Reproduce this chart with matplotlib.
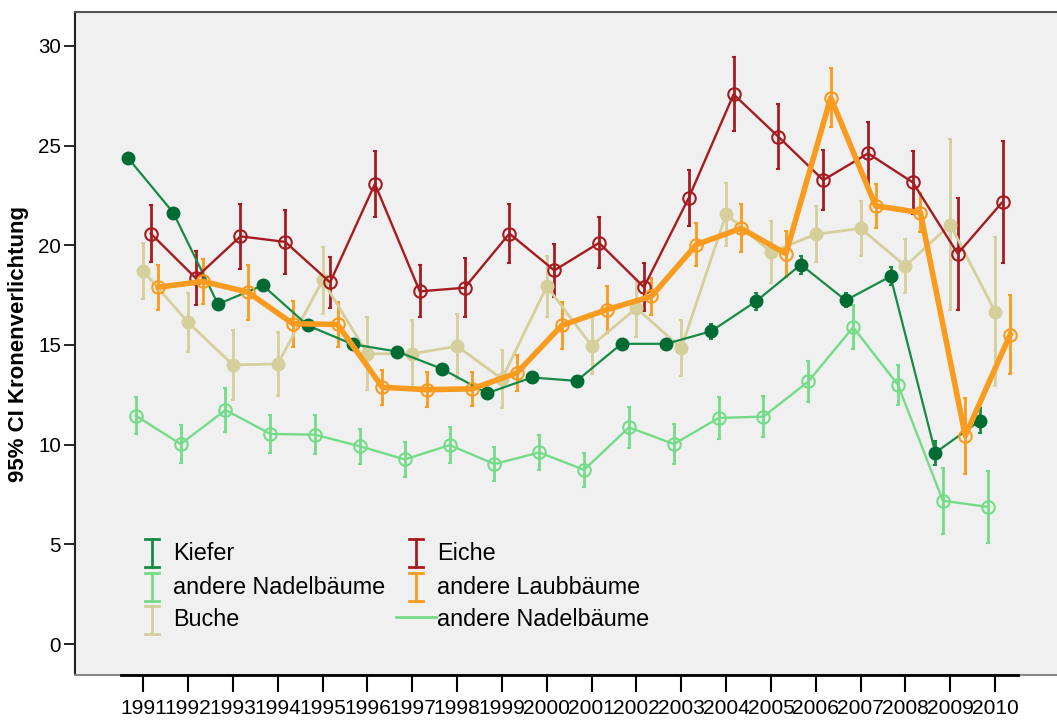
import numpy as np
import matplotlib
matplotlib.use("Agg")
import matplotlib.pyplot as plt

plt.rcParams['font.family'] = ['Liberation Sans', 'DejaVu Sans']

# Jahre (Kategorien)
years = [str(y) for y in range(1991, 2011)]

# Mittelwerte und halbe 95%-CI-Breiten
kiefer = [24.36, 21.64, 17.05, 17.99, 15.98, 15.04, 14.67, 13.80, 12.58, 13.37,
          13.20, 15.06, 15.06, 15.69, 17.19, 19.03, 17.24, 18.44, 9.60, 11.21]
kiefer_err = [0.27, 0.25, 0.25, 0.25, 0.2, 0.2, 0.2, 0.2, 0.25, 0.2,
              0.2, 0.2, 0.2, 0.37, 0.43, 0.45, 0.35, 0.45, 0.6, 0.63]

nadel = [11.46, 10.03, 11.74, 10.54, 10.50, 9.92, 9.26, 9.98, 9.03, 9.61,
         8.74, 10.87, 10.03, 11.34, 11.41, 13.17, 15.89, 13.00, 7.19, 6.88]
nadel_err = [0.92, 0.97, 1.09, 0.94, 0.98, 0.87, 0.88, 0.92, 0.84, 0.87,
             0.84, 1.02, 0.99, 1.05, 1.02, 1.04, 1.10, 1.00, 1.66, 1.80]

buche = [18.71, 16.13, 14.00, 14.05, 18.24, 14.56, 14.56, 14.94, 13.30, 17.94,
         14.97, 16.85, 14.84, 21.56, 19.66, 20.55, 20.85, 18.96, 21.04, 16.67]
buche_err = [1.42, 1.46, 1.74, 1.60, 1.67, 1.84, 1.67, 1.63, 1.47, 1.52,
             1.42, 1.47, 1.40, 1.58, 1.57, 1.40, 1.38, 1.37, 4.29, 3.75]

eiche = [20.59, 18.36, 20.45, 20.17, 18.14, 23.08, 17.69, 17.87, 20.59, 18.74,
         20.12, 17.90, 22.38, 27.57, 25.44, 23.27, 24.61, 23.15, 19.58, 22.18]
eiche_err = [1.42, 1.36, 1.63, 1.60, 1.27, 1.67, 1.31, 1.48, 1.49, 1.32,
             1.28, 1.21, 1.41, 1.86, 1.63, 1.49, 1.59, 1.57, 2.80, 3.06]

laub = [17.90, 18.19, 17.65, 16.07, 16.03, 12.88, 12.76, 12.80, 13.60, 15.98,
        16.77, 17.44, 20.03, 20.85, 19.58, 27.40, 21.98, 21.64, 10.45, 15.51]
laub_err = [1.13, 1.12, 1.38, 1.16, 1.11, 0.89, 0.88, 0.84, 0.90, 1.17,
            1.17, 0.94, 1.09, 1.20, 1.15, 1.48, 1.10, 0.99, 1.91, 1.98]

C_KIEFER = '#178a45'
C_KIEFER_M = '#006b33'
C_NADEL = '#74dc88'
C_BUCHE = '#d5cf9b'
C_EICHE = '#a61b20'
C_LAUB = '#f99b1e'

fig = plt.figure(figsize=(10.57, 7.2), dpi=100)
ax = fig.add_axes([75 / 1057, 45 / 720, 982 / 1057, 663 / 720])
ax.set_facecolor('#f0f0f0')

x = np.arange(len(years))
step = 1 / 6

# (werte, fehler, farbe, markerfarbe, gefuellt, linienbreite, versatz)
series = [
    (nadel, nadel_err, C_NADEL, C_NADEL, False, 1.7, -step),
    (buche, buche_err, C_BUCHE, C_BUCHE, True, 2.0, 0),
    (kiefer, kiefer_err, C_KIEFER, C_KIEFER_M, True, 1.6, -2 * step),
    (eiche, eiche_err, C_EICHE, C_EICHE, False, 1.7, step),
    (laub, laub_err, C_LAUB, C_LAUB, False, 4.0, 2 * step),
]
for vals, err, col, mcol, filled, lw, off in series:
    ax.errorbar(x + off, vals, yerr=err, color=col, lw=lw,
                ecolor=col, elinewidth=2, capsize=1.5, capthick=1.5,
                marker='o', markersize=9 if not filled else 8.5,
                markerfacecolor=mcol if filled else 'none',
                markeredgecolor=mcol, markeredgewidth=1.5, zorder=3)

ax.set_xlim(-1.523, 20.38)
ax.set_ylim(-1.55, 31.7)
ax.set_xticks(x)
ax.set_xticklabels(years, fontsize=15.1)
ax.set_yticks(range(0, 31, 5))
ax.tick_params(axis='y', labelsize=14.8, length=8, width=1.2, direction='out', pad=2)
ax.tick_params(axis='x', length=12, width=1.5, direction='out', pad=5)

ax.spines['right'].set_visible(False)
ax.spines['top'].set_color('#555555')
ax.spines['top'].set_linewidth(1.5)
ax.spines['left'].set_color('#222222')
ax.spines['left'].set_linewidth(1.5)
ax.spines['bottom'].set_color('#888888')
ax.spines['bottom'].set_linewidth(1.5)
# schwarze Kategorienachse
ax.plot([-0.5, 19.5], [-1.55, -1.55], color='black', lw=2, clip_on=False, zorder=5)

ax.set_ylabel('95% CI Kronenverlichtung', fontsize=16, fontweight='bold')
ax.yaxis.set_label_coords(-0.047, 0.5)

# Legende (manuell, SPSS-Stil)
def ibeam(xc, yc, col):
    h, w = 0.0205, 0.0071
    ax.plot([xc, xc], [yc - h, yc + h], color=col, lw=2, transform=ax.transAxes)
    ax.plot([xc - w, xc + w], [yc + h, yc + h], color=col, lw=2, transform=ax.transAxes)
    ax.plot([xc - w, xc + w], [yc - h, yc - h], color=col, lw=2, transform=ax.transAxes)

rows = [0.184, 0.1327, 0.083]
col1, col2 = 0.0781, 0.3473
items1 = [('Kiefer', C_KIEFER), ('andere Nadelbäume', C_NADEL), ('Buche', C_BUCHE)]
items2 = [('Eiche', C_EICHE), ('andere Laubbäume', C_LAUB)]
for (lab, col), yy in zip(items1, rows):
    ibeam(col1, yy, col)
    ax.text(0.0998, yy, lab, fontsize=16.8, va='center', ha='left', transform=ax.transAxes)
for (lab, col), yy in zip(items2, rows):
    ibeam(col2, yy, col)
    ax.text(0.3686, yy, lab, fontsize=16.8, va='center', ha='left', transform=ax.transAxes)
ax.plot([0.3266, 0.3673], [rows[2] + 0.004, rows[2] + 0.004], color=C_NADEL, lw=2,
        transform=ax.transAxes)
ax.text(0.3686, rows[2], 'andere Nadelbäume', fontsize=16.8, va='center', ha='left',
        transform=ax.transAxes)

fig.savefig('out.png', dpi=100)
